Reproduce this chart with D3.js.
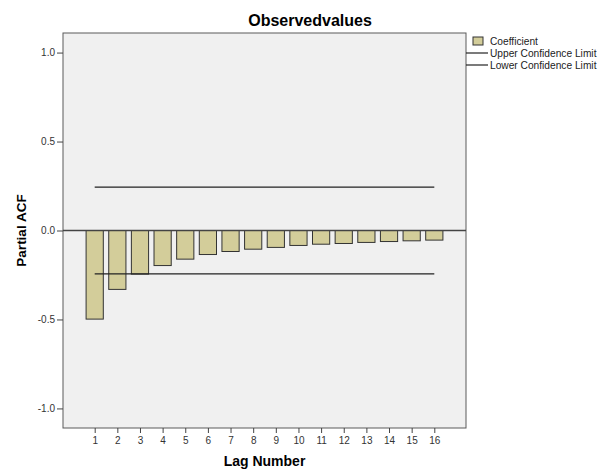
<!DOCTYPE html>
<html>
<head>
<meta charset="utf-8">
<script src="https://cdn.jsdelivr.net/npm/d3@7"></script>
<style>
    body { margin: 0; background: #fff; }
    svg text { font-family: "Liberation Sans", Arial, sans-serif; }
</style>
</head>
<body>
<div id="chart"></div>
<script>
const LAGS = [1, 2, 3, 4, 5, 6, 7, 8, 9, 10, 11, 12, 13, 14, 15, 16];
const COEFFICIENT = [-0.498, -0.331, -0.245, -0.197, -0.161, -0.135, -0.118, -0.105,
    -0.095, -0.084, -0.077, -0.073, -0.067, -0.062, -0.058, -0.054];
const UPPER_LIMIT = [0.244, 0.244, 0.244, 0.244, 0.244, 0.244, 0.244, 0.244,
    0.244, 0.244, 0.244, 0.244, 0.244, 0.244, 0.244, 0.244];
const LOWER_LIMIT = [-0.244, -0.244, -0.244, -0.244, -0.244, -0.244, -0.244, -0.244,
    -0.244, -0.244, -0.244, -0.244, -0.244, -0.244, -0.244, -0.244];
const Y_TICKS = [-1.0, -0.5, 0.0, 0.5, 1.0];
const LEGEND = ['Coefficient', 'Upper Confidence Limit', 'Lower Confidence Limit'];

const W = 603, H = 470;
const margin = {top: 33, right: 137, bottom: 42, left: 63};
const width = W - margin.left - margin.right;
const height = H - margin.top - margin.bottom;

const svg = d3.select('#chart').append('svg')
    .attr('width', W)
    .attr('height', H);

const g = svg.append('g')
    .attr('transform', 'translate(' + margin.left + ',' + margin.top + ')');

// Scales
let x = d3.scaleLinear().domain([-0.4, 17.4]).range([0, width]);
let y = d3.scaleLinear().domain([-1.11, 1.11]).range([height, 0]);
let barW = x(0.76) - x(0);

// Plot area
g.append('rect')
    .attr('width', width)
    .attr('height', height)
    .attr('fill', '#f0f0f0')
    .attr('stroke', '#5a5a5a')
    .attr('stroke-width', 1);

// Bars
g.selectAll('.bar')
    .data(LAGS)
    .enter().append('rect')
    .attr('class', 'bar')
    .attr('x', (d) => x(d) - barW / 2)
    .attr('y', y(0))
    .attr('width', barW)
    .attr('height', (d, i) => y(COEFFICIENT[i]) - y(0))
    .attr('fill', '#d3cd9a')
    .attr('stroke', '#333')
    .attr('stroke-width', 1);

// Confidence limits
let line = d3.line()
    .x((d, i) => x(LAGS[i]))
    .y((d) => y(d));
[UPPER_LIMIT, LOWER_LIMIT].forEach(function (vals) {
    g.append('path')
        .datum(vals)
        .attr('fill', 'none')
        .attr('stroke', '#222')
        .attr('stroke-width', 1.2)
        .attr('d', line);
});

// Zero reference line
g.append('line')
    .attr('x1', 0)
    .attr('x2', width)
    .attr('y1', y(0))
    .attr('y2', y(0))
    .attr('stroke', '#444')
    .attr('stroke-width', 1.5);

// Axes (hyphen minus like the original, not d3's unicode minus)
let fmt = (d) => d.toFixed(1);
let yAxis = g.append('g')
    .call(d3.axisLeft(y).tickValues(Y_TICKS).tickFormat(fmt).tickSize(6).tickPadding(2));
let xAxis = g.append('g')
    .attr('transform', 'translate(0,' + height + ')')
    .call(d3.axisBottom(x).tickValues(LAGS).tickFormat((d) => String(d)).tickSize(5).tickPadding(4));
[xAxis, yAxis].forEach(function (ax) {
    ax.select('.domain').remove();
    ax.selectAll('line').attr('stroke', '#444');
    ax.selectAll('text')
        .attr('fill', '#333')
        .style('font-size', '10px');
});

// Titles
svg.append('text')
    .attr('x', 310)
    .attr('y', 26)
    .attr('text-anchor', 'middle')
    .style('font-size', '16px')
    .style('font-weight', 'bold')
    .text('Observedvalues');

svg.append('text')
    .attr('x', margin.left + width / 2)
    .attr('y', 466)
    .attr('text-anchor', 'middle')
    .style('font-size', '14px')
    .style('font-weight', 'bold')
    .text('Lag Number');

svg.append('text')
    .attr('transform', 'translate(26,' + (margin.top + height / 2) + ') rotate(-90)')
    .attr('text-anchor', 'middle')
    .style('font-size', '13.5px')
    .style('font-weight', 'bold')
    .text('Partial ACF');

// Legend
let legend = svg.append('g')
    .attr('transform', 'translate(466,41)');
LEGEND.forEach(function (label, i) {
    let row = legend.append('g').attr('transform', 'translate(0,' + (i * 12) + ')');
    if (i === 0) {
        row.append('rect')
            .attr('x', 7)
            .attr('y', -4)
            .attr('width', 10)
            .attr('height', 8)
            .attr('fill', '#d3cd9a')
            .attr('stroke', '#333');
    } else {
        row.append('line')
            .attr('x1', 0)
            .attr('x2', 22)
            .attr('stroke', '#222')
            .attr('stroke-width', 1.2);
    }
    row.append('text')
        .attr('x', 24)
        .attr('dy', '0.35em')
        .attr('fill', '#222')
        .style('font-size', '10.2px')
        .text(label);
});
</script>
</body>
</html>
